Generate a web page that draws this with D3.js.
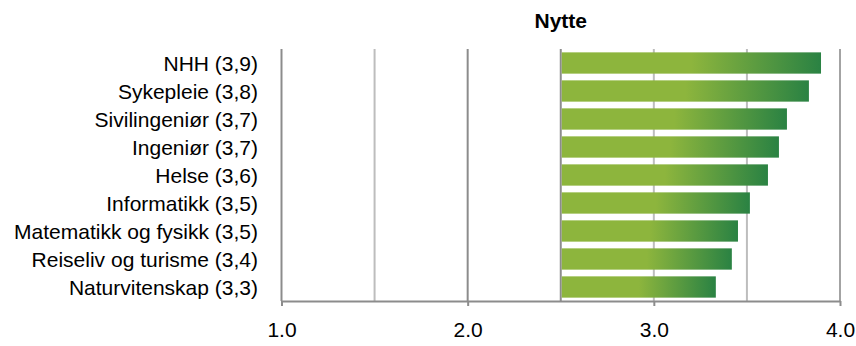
<!DOCTYPE html>
<html>
<head>
<meta charset="utf-8">
<script src="https://cdn.jsdelivr.net/npm/d3@7"></script>
<style>
  html, body { margin: 0; padding: 0; background: #fff; }
  svg { display: block; font-family: "Liberation Sans", Arial, sans-serif; }
</style>
</head>
<body>
<svg id="chart" width="856" height="346"></svg>
<script>
// Mean "Nytte" score per study field
const categories = ["NHH", "Sykepleie", "Sivilingeniør", "Ingeniør", "Helse",
  "Informatikk", "Matematikk og fysikk", "Reiseliv og turisme", "Naturvitenskap"];
const values = [3.898, 3.833, 3.715, 3.672, 3.613, 3.516, 3.452, 3.419, 3.333];
const tickValues = [1.0, 2.0, 3.0, 4.0];
const gridValues = [1.0, 1.5, 2.0, 2.5, 3.0, 3.5, 4.0];
const baseline = 2.5;
const title = "Nytte";

const svg = d3.select("#chart");
const plotLeft = 281.5, plotRight = 840, plotTop = 49, plotBottom = 301;
const fontSize = 21;

const x = d3.scaleLinear().domain([1, 4]).range([plotLeft, plotRight]);
const y = d3.scaleBand().domain(categories).range([plotTop, plotBottom]).paddingInner(0.24).paddingOuter(0.12);

const fmt = v => d3.format(".1f")(v).replace(".", ",");

// gradient: flat light green, blending into dark green toward the bar end
const grad = svg.append("defs").append("linearGradient")
  .attr("id", "barGrad").attr("x1", "0%").attr("x2", "100%").attr("y1", "0%").attr("y2", "0%");
grad.append("stop").attr("offset", "0%").attr("stop-color", "#8db53d");
grad.append("stop").attr("offset", "50%").attr("stop-color", "#8db53d");
grad.append("stop").attr("offset", "100%").attr("stop-color", "#2a8243");

// vertical gridlines
const gridColor = v => (v === 1.0 || v === 2.0 || v === 2.5) ? "#8c8c8c" : (v === 4.0 ? "#a3a3a3" : "#bdbdbd");
svg.append("g").selectAll("line").data(gridValues).join("line")
  .attr("x1", d => x(d)).attr("x2", d => x(d))
  .attr("y1", plotTop).attr("y2", plotBottom)
  .attr("stroke", d => gridColor(d)).attr("stroke-width", 2);

// bars from the 2.5 baseline
svg.append("g").selectAll("rect").data(values).join("rect")
  .attr("x", x(baseline) + 1)
  .attr("y", (d, i) => y(categories[i]))
  .attr("width", d => x(d) - x(baseline) - 1)
  .attr("height", y.bandwidth())
  .attr("fill", "url(#barGrad)");

// bottom axis
const xAxis = d3.axisBottom(x).tickValues(tickValues).tickFormat(d3.format(".1f"))
  .tickSize(5).tickSizeOuter(0);
const ax = svg.append("g").attr("transform", `translate(0,${plotBottom})`).call(xAxis);
ax.select(".domain").attr("stroke", "#8c8c8c").attr("stroke-width", 2);
ax.selectAll(".tick line").attr("stroke", "#8c8c8c").attr("stroke-width", 2);
ax.selectAll(".tick text").attr("font-size", fontSize).attr("fill", "#000")
  .attr("font-family", "Liberation Sans, Arial, sans-serif")
  .attr("y", 36).attr("dy", null);

// category labels with value
svg.append("g").selectAll("text").data(categories).join("text")
  .attr("x", 258)
  .attr("y", d => y(d) + y.bandwidth() / 2)
  .attr("dy", "0.36em")
  .attr("text-anchor", "end")
  .attr("font-size", fontSize)
  .attr("fill", "#000")
  .text((d, i) => `${d} (${fmt(values[i])})`);

// title
svg.append("text")
  .attr("x", (plotLeft + plotRight) / 2).attr("y", 28)
  .attr("text-anchor", "middle")
  .attr("font-size", fontSize).attr("font-weight", "bold")
  .text(title);
</script>
</body>
</html>
